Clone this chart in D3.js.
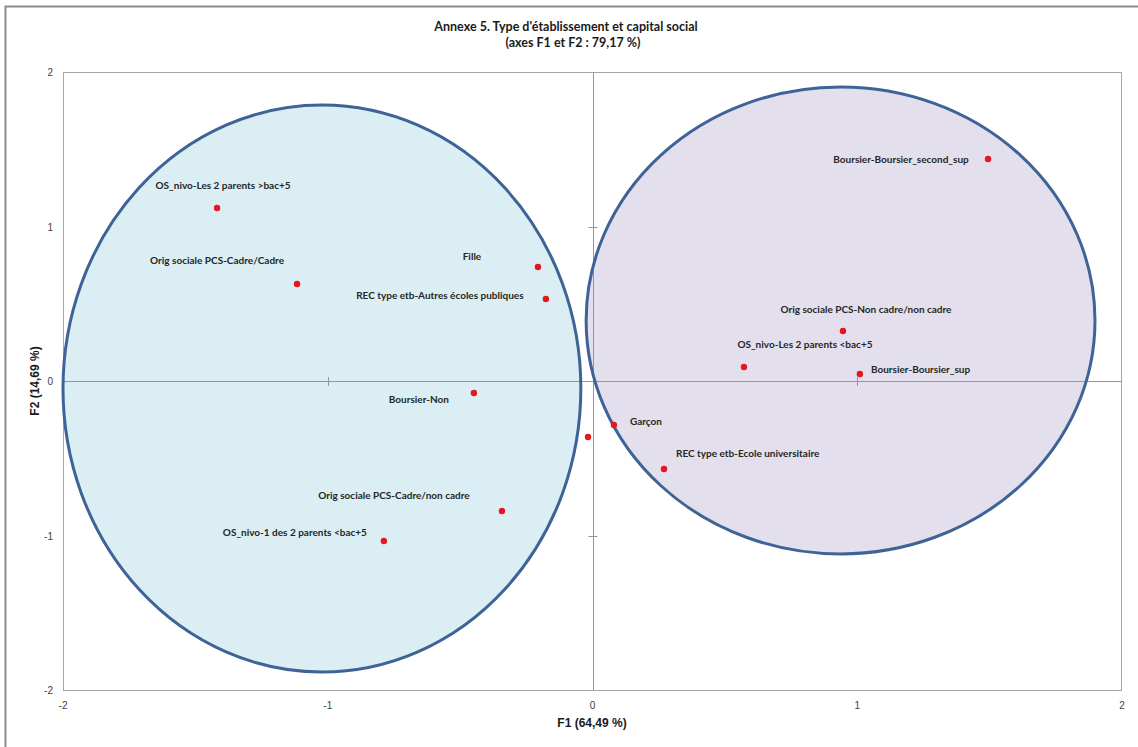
<!DOCTYPE html>
<html><head><meta charset="utf-8">
<script src="https://cdn.jsdelivr.net/npm/d3@7"></script>
<style>body{margin:0;background:#fff}svg{display:block}</style>
</head><body>
<svg id="c" width="1138" height="747"></svg>
<script>
const labels = ["OS_nivo-Les 2 parents >bac+5","Orig sociale PCS-Cadre/Cadre","Fille","REC type etb-Autres écoles publiques","Boursier-Non","","Garçon","REC type etb-Ecole universitaire","Orig sociale PCS-Cadre/non cadre","OS_nivo-1 des 2 parents <bac+5","Boursier-Boursier_second_sup","Orig sociale PCS-Non cadre/non cadre","OS_nivo-Les 2 parents <bac+5","Boursier-Boursier_sup"];
const f1 = [-1.418,-1.116,-0.206,-0.176,-0.448,-0.017,0.081,0.270,-0.342,-0.788,1.494,0.946,0.572,1.010];
const f2 = [1.120,0.628,0.738,0.531,-0.078,-0.362,-0.285,-0.570,-0.841,-1.036,1.437,0.324,0.091,0.045];
// label anchor offsets (px) relative to each point: [dx, dy, anchor]
const labelDx = [6,-80,-66,-106,-55,0,16,12,-108,-89,-87,23,61,11];
const labelDy = [-22,-23,-10,-3,6,0,-4,-16,-15,-9,1,-21,-22,-5];
const labelAnchor = ["middle","middle","middle","middle","middle","start","start","start","middle","middle","middle","middle","middle","start"];
const ticks = [-2,-1,0,1,2];
// groups (ellipses): centre F1, centre F2, radius F1, radius F2
const ellCx = [-1.022,0.937], ellCy = [-0.049,0.392], ellRx = [0.978,0.961], ellRy = [1.835,1.511];
const ellFill = ["#DAEEF3","#E4DFEC"];

const svg = d3.select("#c");
const x = d3.scaleLinear().domain([-2,2]).range([63,1122]);
const y = d3.scaleLinear().domain([-2,2]).range([690,72]);

// outer frame
svg.append("path").attr("d","M5.5,747 V6.5 H1138").attr("fill","none").attr("stroke","#8c8c8c").attr("stroke-width",2);

// title
const t = svg.append("text").attr("x",567).attr("y",31).attr("text-anchor","middle")
  .style("font-family","Lato, 'Open Sans', sans-serif").style("font-weight","bold").style("font-size","12.5px").attr("fill","#1a1a1a");
t.append("tspan").attr("x",566).attr("dy",0).text("Annexe 5. Type d'établissement et capital social");
t.append("tspan").attr("x",573).attr("dy",16).text("(axes F1 et F2 : 79,17 %)");

// plot border
svg.append("rect").attr("x",63.5).attr("y",72.5).attr("width",x(2)-x(-2)-1).attr("height",y(-2)-y(2)).attr("fill","none").attr("stroke","#a6a6a6");

// ellipses
svg.selectAll("ellipse").data(ellCx).join("ellipse")
  .attr("cx",(d,i)=>x(d)).attr("cy",(d,i)=>y(ellCy[i]))
  .attr("rx",(d,i)=>x(ellRx[i])-x(0)).attr("ry",(d,i)=>y(0)-y(ellRy[i]))
  .attr("fill",(d,i)=>ellFill[i]).attr("stroke","none");

// zero axes
svg.append("line").attr("x1",x(-2)).attr("x2",x(2)).attr("y1",Math.round(y(0))+0.5).attr("y2",Math.round(y(0))+0.5).attr("stroke","#8a9aa0");
svg.append("line").attr("y1",y(-2)).attr("y2",y(2)).attr("x1",Math.round(x(0))+0.5).attr("x2",Math.round(x(0))+0.5).attr("stroke","#8a9aa0");
ticks.filter(d=>d!==0 && Math.abs(d)<2).forEach(d=>{
  svg.append("line").attr("x1",Math.round(x(d))+0.5).attr("x2",Math.round(x(d))+0.5).attr("y1",y(0)-4).attr("y2",y(0)+5).attr("stroke","#8a9aa0");
  svg.append("line").attr("y1",Math.round(y(d))+0.5).attr("y2",Math.round(y(d))+0.5).attr("x1",x(0)-4).attr("x2",x(0)+5).attr("stroke","#8a9aa0");
});

// ellipse outlines
svg.selectAll("ellipse.o").data(ellCx).join("ellipse").attr("class","o")
  .attr("cx",(d,i)=>x(d)).attr("cy",(d,i)=>y(ellCy[i]))
  .attr("rx",(d,i)=>x(ellRx[i])-x(0)).attr("ry",(d,i)=>y(0)-y(ellRy[i]))
  .attr("fill","none").attr("stroke","#3E6396").attr("stroke-width",3);

// tick labels
const tickFont = "Liberation Sans, Arial, sans-serif";
svg.selectAll("text.xt").data(ticks).join("text").attr("class","xt")
  .attr("x",d=>x(d)).attr("y",709).attr("text-anchor","middle")
  .style("font-family",tickFont).style("font-size","10px").attr("fill","#404040").text(d=>d);
svg.selectAll("text.yt").data(ticks).join("text").attr("class","yt")
  .attr("x",53).attr("y",d=>y(d)+4).attr("text-anchor","end")
  .style("font-family",tickFont).style("font-size","10px").attr("fill","#404040").text(d=>d);

// axis titles
svg.append("text").attr("x",592).attr("y",727).attr("text-anchor","middle")
  .style("font-family",tickFont).style("font-weight","bold").style("font-size","12px").attr("fill","#1a1a1a").text("F1 (64,49 %)");
svg.append("text").attr("transform","translate(39,381) rotate(-90)").attr("text-anchor","middle")
  .style("font-family",tickFont).style("font-weight","bold").style("font-size","12px").attr("fill","#1a1a1a").text("F2 (14,69 %)");

// points
svg.selectAll("circle.p").data(f1).join("circle").attr("class","p")
  .attr("cx",d=>x(d)).attr("cy",(d,i)=>y(f2[i])).attr("r",3.2).attr("fill","#E8141E");

// labels
svg.selectAll("text.lb").data(labels).join("text").attr("class","lb")
  .attr("x",(d,i)=>x(f1[i])+labelDx[i]).attr("y",(d,i)=>y(f2[i])+labelDy[i]+3.5)
  .attr("text-anchor",(d,i)=>labelAnchor[i])
  .style("font-family","Lato, 'Open Sans', sans-serif").style("font-weight","bold").style("font-size","10px").attr("fill","#262626")
  .text(d=>d);
</script>
</body></html>
